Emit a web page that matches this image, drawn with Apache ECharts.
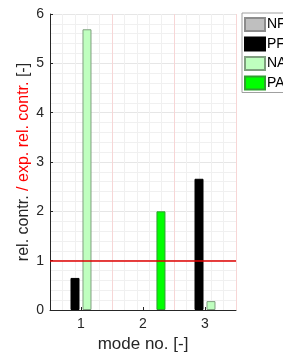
<!DOCTYPE html>
<html>
<head>
<meta charset="utf-8">
<script src="https://cdn.jsdelivr.net/npm/echarts@6/dist/echarts.min.js"></script>
<style>
  html, body { margin: 0; padding: 0; background: #fff; }
  #chart { width: 283px; height: 358px; }
</style>
</head>
<body>
<div id="chart"></div>
<script>
// modes on the x axis
var modes = ['1', '2', '3'];
// rel. contr. / exp. rel. contr. per mode
var nfVals = [0, 0, 0];
var pfVals = [0.65, 0, 2.66];
var naVals = [5.69, 0, 0.18];
var paVals = [0, 2.0, 0];
var refLevel = 1;

var myChart = echarts.init(document.getElementById('chart'));
var font = 'Liberation Sans';

function barSeries(name, data, color, edge) {
    return {
        name: name,
        type: 'bar',
        // zero bars are flat in the original, so leave them out
        data: data.map(function (v) { return v === 0 ? '-' : v; }),
        barWidth: 9,
        barGap: '33%',
        itemStyle: { color: color, borderColor: edge, borderWidth: 1 },
        emphasis: { disabled: true }
    };
}

var series = [
    barSeries('NF', nfVals, '#bfbfbf', '#8c8c8c'),
    barSeries('PF', pfVals, '#000000', '#000000'),
    barSeries('NA', naVals, '#bfffbf', '#7f9f7f'),
    barSeries('PA', paVals, '#00ff00', '#2f9f2f')
];
// red reference line at rel. contr. = 1
series[1].markLine = {
    silent: true,
    symbol: 'none',
    label: { show: false },
    lineStyle: { color: '#e00000', width: 1.5, type: 'solid' },
    data: [{ yAxis: refLevel }]
};

var option = {
    animation: false,
    grid: { left: 50, right: 47, top: 14, bottom: 47 },
    legend: {
        data: ['NF', 'PF', 'NA', 'PA'],
        orient: 'vertical',
        left: 242,
        top: 13,
        itemWidth: 20,
        itemHeight: 13,
        itemGap: 4.5,
        padding: [4, 10, 2, 2],
        backgroundColor: '#fff',
        borderColor: '#a0a0a0',
        borderWidth: 1,
        borderRadius: 0,
        icon: 'rect',
        textStyle: { fontFamily: font, fontSize: 14, color: '#000', padding: [0, 0, 0, -3] }
    },
    xAxis: [{
        type: 'category',
        data: modes,
        name: 'mode no. [-]',
        nameLocation: 'middle',
        nameGap: 26,
        nameTextStyle: { fontFamily: font, fontSize: 17, color: '#262626' },
        axisLine: { lineStyle: { color: '#262626', width: 1 } },
        axisTick: { show: true, inside: true, alignWithLabel: true, length: 3, lineStyle: { color: '#262626' } },
        axisLabel: { fontFamily: font, fontSize: 14, color: '#262626', margin: 7 },
        splitLine: {
            show: true,
            interval: function (i) { return i === 1 || i === 2; },
            lineStyle: { color: '#f7d6d6', width: 1 }
        },
        z: 3
    }, {
        // helper axis for the fine grid
        type: 'value',
        min: 0.5,
        max: 3.5,
        interval: 0.2,
        show: true,
        axisLine: { show: false },
        axisTick: { show: false },
        axisLabel: { show: false },
        splitLine: { show: true, lineStyle: { color: '#f0f0f0', width: 1 } },
        z: 0
    }],
    yAxis: {
        type: 'value',
        min: 0,
        max: 6,
        interval: 1,
        name: '{b|rel. contr. }{r|/ exp. rel. contr.}{b| [-]}',
        nameLocation: 'middle',
        nameRotate: 90,
        nameGap: 18,
        nameMoveOverlap: false,
        nameTextStyle: {
            fontFamily: font,
            fontSize: 16,
            rich: {
                b: { fontFamily: font, fontSize: 16, color: '#262626' },
                r: { fontFamily: font, fontSize: 16, color: '#ff0000' }
            }
        },
        axisLine: { show: true, lineStyle: { color: '#262626', width: 1 } },
        axisTick: { show: true, inside: true, length: 3, lineStyle: { color: '#262626' } },
        axisLabel: { fontFamily: font, fontSize: 14, color: '#262626', margin: 6 },
        splitLine: { show: true, lineStyle: { color: '#e6e6e6', width: 1 } },
        minorTick: { show: false, splitNumber: 5 },
        minorSplitLine: { show: true, lineStyle: { color: '#f0f0f0', width: 1 } }
    },
    series: series
};

myChart.setOption(option);
window.addEventListener('resize', function () {
    myChart.resize();
});
</script>
</body>
</html>
